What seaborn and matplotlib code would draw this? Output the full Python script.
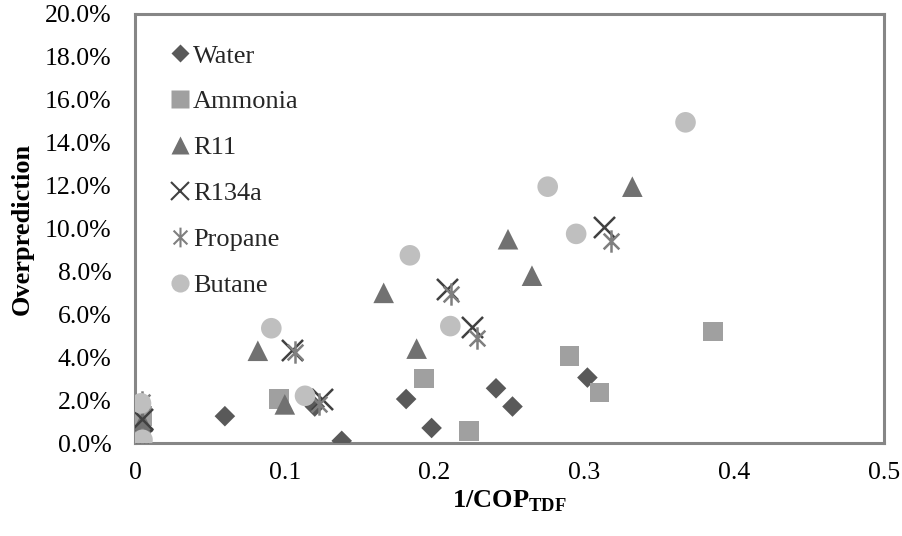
import numpy as np
import pandas as pd
import matplotlib
matplotlib.use("Agg")
import matplotlib.pyplot as plt
from matplotlib.path import Path
from matplotlib.lines import Line2D
from matplotlib.ticker import FuncFormatter, MultipleLocator
import seaborn as sns

# ---- data (x = 1/COP_TDF, y = overprediction in %) ----
water_x = [0.004, 0.004, 0.060, 0.120, 0.138, 0.181, 0.198, 0.241, 0.252, 0.302]
water_y = [0.2, 1.0, 1.25, 1.7, 0.1, 2.05, 0.7, 2.55, 1.7, 3.05]
ammonia_x = [0.005, 0.096, 0.193, 0.223, 0.290, 0.310, 0.386]
ammonia_y = [1.25, 2.05, 3.0, 0.55, 4.05, 2.35, 5.2]
r11_x = [0.005, 0.082, 0.100, 0.166, 0.188, 0.249, 0.265, 0.332]
r11_y = [1.0, 4.3, 1.8, 7.0, 4.4, 9.5, 7.8, 11.95]
r134a_x = [0.005, 0.005, 0.105, 0.125, 0.208, 0.225, 0.313]
r134a_y = [1.1, 0.2, 4.35, 2.05, 7.2, 5.4, 10.05]
propane_x = [0.005, 0.005, 0.107, 0.123, 0.211, 0.228, 0.318]
propane_y = [1.9, 0.2, 4.25, 1.8, 6.95, 4.9, 9.4]
butane_x = [0.004, 0.005, 0.091, 0.1135, 0.1835, 0.2105, 0.2755, 0.2945, 0.3675]
butane_y = [1.85, 0.15, 5.35, 2.2, 8.75, 5.45, 11.95, 9.75, 14.95]

series_names = ["Water", "Ammonia", "R11", "R134a", "Propane", "Butane"]
x_ticks = [0, 0.1, 0.2, 0.3, 0.4, 0.5]

sns.set_theme(style="white")
plt.rcParams["font.family"] = ["Liberation Serif", "DejaVu Serif"]
plt.rcParams["mathtext.fontset"] = "custom"
plt.rcParams["mathtext.rm"] = "Liberation Serif:bold"
plt.rcParams["mathtext.bf"] = "Liberation Serif:bold"

# asterisk marker: X plus vertical bar
star_path = Path(
    [(-0.7, -0.7), (0.7, 0.7), (-0.7, 0.7), (0.7, -0.7), (0, -1), (0, 1)],
    [Path.MOVETO, Path.LINETO, Path.MOVETO, Path.LINETO, Path.MOVETO, Path.LINETO],
)

styles = {
    "Water":   dict(marker="D", color="#595959", s=110, filled=True),
    "Ammonia": dict(marker="s", color="#a0a0a0", s=200, filled=True),
    "R11":     dict(marker="^", color="#717171", s=220, filled=True),
    "R134a":   dict(marker="x", color="#404040", s=230, filled=False),
    "Propane": dict(marker=star_path, color="#7f7f7f", s=260, filled=False),
    "Butane":  dict(marker="o", color="#bfbfbf", s=220, filled=True),
}
data = {
    "Water": (water_x, water_y),
    "Ammonia": (ammonia_x, ammonia_y),
    "R11": (r11_x, r11_y),
    "R134a": (r134a_x, r134a_y),
    "Propane": (propane_x, propane_y),
    "Butane": (butane_x, butane_y),
}

fig = plt.figure(figsize=(9.03, 5.36), dpi=100)
ax = fig.add_axes([135 / 903, 1 - 443 / 536, (884 - 135) / 903, (443 - 14) / 536])

for name in series_names:
    xs, ys = data[name]
    df = pd.DataFrame({"x": xs, "y": ys})
    st = styles[name]
    if st["filled"]:
        sns.scatterplot(data=df, x="x", y="y", ax=ax, marker=st["marker"],
                        color=st["color"], edgecolor="none", s=st["s"],
                        linewidth=0, legend=False, zorder=3)
    else:
        sns.scatterplot(data=df, x="x", y="y", ax=ax, marker=st["marker"],
                        color=st["color"], edgecolor=st["color"], s=st["s"],
                        linewidth=1.8, legend=False, zorder=3)

ax.set_xlim(0, 0.5)
ax.set_ylim(0, 20)
ax.set_xticks(x_ticks)
ax.xaxis.set_major_formatter(FuncFormatter(lambda v, p: "0" if v == 0 else f"{v:g}"))
ax.yaxis.set_major_locator(MultipleLocator(2))
ax.yaxis.set_major_formatter(FuncFormatter(lambda v, p: f"{v:.1f}%"))

spine_c = "#868686"
for sp in ax.spines.values():
    sp.set_visible(True)
    sp.set_color(spine_c)
    sp.set_linewidth(2.2)
ax.tick_params(axis="both", direction="in", length=5, width=1.6, color=spine_c,
               labelsize=18.5, labelcolor="black")
ax.tick_params(axis="y", pad=17)
ax.tick_params(axis="x", pad=14)
ax.grid(False)

ax.set_xlabel("1/COP$_{\\mathregular{TDF}}$", fontsize=19, fontweight="bold",
              color="black", labelpad=3)
ax.set_ylabel("Overprediction", fontsize=19, fontweight="bold", color="black",
              labelpad=8)

handles = []
for name in series_names:
    st = styles[name]
    ms = np.sqrt(st["s"]) * 0.88
    if st["filled"]:
        h = Line2D([], [], linestyle="none", marker=st["marker"], markersize=ms,
                   markerfacecolor=st["color"], markeredgecolor="none")
    else:
        h = Line2D([], [], linestyle="none", marker=st["marker"], markersize=ms,
                   markerfacecolor="none", markeredgecolor=st["color"],
                   markeredgewidth=1.5)
    handles.append(h)
leg = ax.legend(handles, series_names, loc="upper left",
                bbox_to_anchor=(0.047, 0.93), frameon=False, fontsize=19,
                handlelength=0.75, handletextpad=0.12, labelspacing=0.85,
                borderaxespad=0, borderpad=0)

fig.savefig("out.png", dpi=100)
